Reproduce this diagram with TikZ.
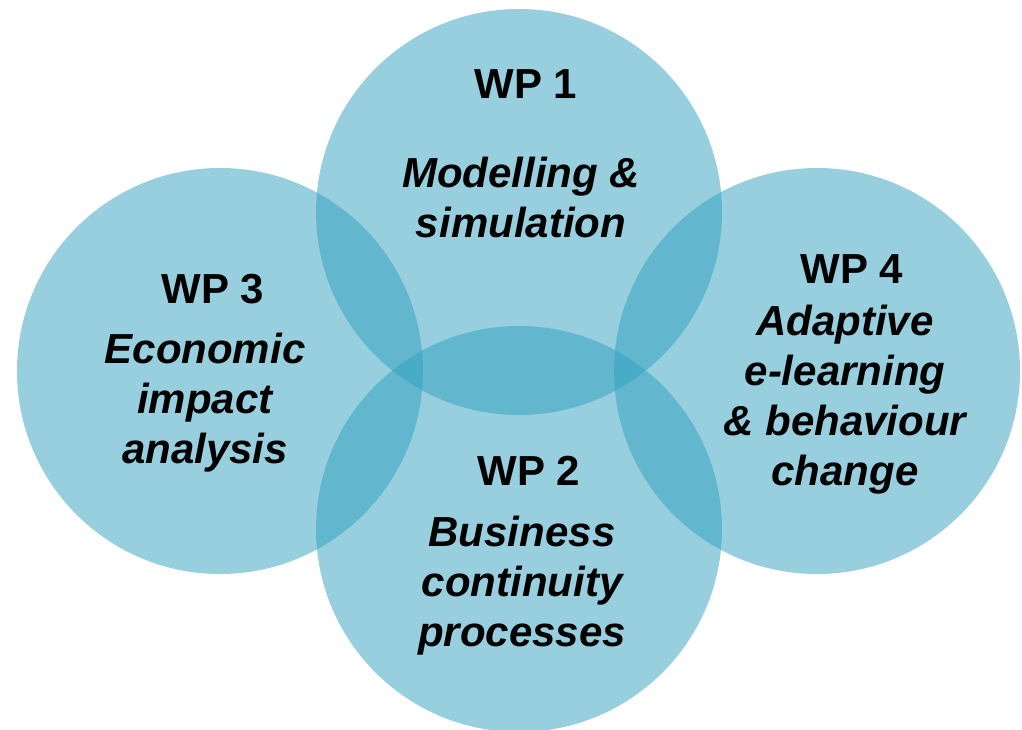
\documentclass[tikz,border=0pt]{standalone}
\usepackage{fontspec}
\setmainfont{Liberation Sans}
\definecolor{wpblue}{RGB}{47,160,190}
\begin{document}
\begin{tikzpicture}[x=1pt,y=-1pt,
  wpcircle/.style={circle,fill=wpblue,fill opacity=0.5,draw=none,minimum size=406pt,inner sep=0pt},
  wptitle/.style={anchor=base,font=\fontsize{42}{50}\selectfont\bfseries,inner sep=0pt},
  wpbody/.style={anchor=base,align=center,font=\fontsize{42}{50}\selectfont\bfseries\itshape,inner sep=0pt}]
\useasboundingbox (0,0) rectangle (1022,730);
\node[wpcircle] (c1) at (519,212) {};
\node[wpcircle] (c2) at (519,529) {};
\node[wpcircle] (c3) at (220,371) {};
\node[wpcircle] (c4) at (817,371) {};
\node[wptitle] (t1) at (526,99) {WP 1};
\node[wpbody] (b1) at (521,237) {Modelling \&\\simulation};
\node[wptitle] (t2) at (529,485) {WP 2};
\node[wpbody] (b2) at (522,646) {Business\\continuity\\processes};
\node[wptitle] (t3) at (213,303) {WP 3};
\node[wpbody] (b3) at (205,463) {Economic\\impact\\analysis};
\node[wptitle] (t4) at (852,283) {WP 4};
\node[wpbody] (b4) at (845,485) {Adaptive\\e-learning\\\& behaviour\\change};
\end{tikzpicture}
\end{document}
